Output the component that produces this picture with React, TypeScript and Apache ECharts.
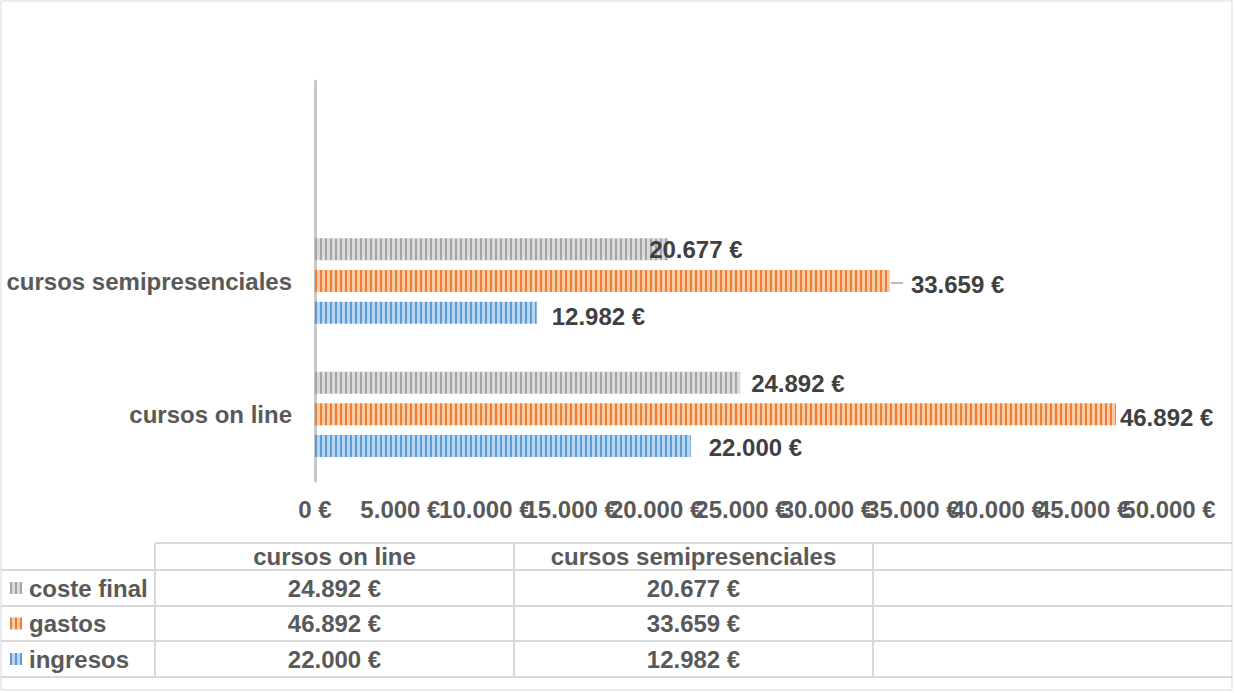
import React, { useEffect, useRef } from 'react';
import * as echarts from 'echarts';

// ---- data ----
const categories = ['cursos on line', 'cursos semipresenciales', ''];
const ingresos = [22000, 12982];
const gastos = [46892, 33659];
const costeFinal = [24892, 20677];
const seriesNames = ['ingresos', 'gastos', 'coste final'];
const axisMin = 0;
const axisMax = 50000;
const axisInterval = 5000;

// ---- styles ----
const FONT = '"Liberation Sans", Arial, Helvetica, sans-serif';
const TEXT = '#595959';
const LABEL = '#404040';
const GRIDC = '#d9d9d9';
const PALETTE = {
  ingresos: { bg: '#b9d5f0', fg: '#5b9bd5' },
  gastos: { bg: '#f9caa7', fg: '#ed7d31' },
  coste: { bg: '#dadada', fg: '#a5a5a5' },
};
const LABEL_OFFSETS = {
  ingresos: [[18, 1], [15, 4]],
  gastos: [[4, 3], [21, 3]],
  coste: [[11, 1], [-19, 0]],
};

function fmt(n: number): string {
  const s = Math.round(n).toString();
  return s.replace(/\B(?=(\d{3})+(?!\d))/g, '.') + ' €';
}

function stripe(bg: string, fg: string): any {
  const c = document.createElement('canvas');
  c.width = 5;
  c.height = 4;
  const ctx = c.getContext('2d')!;
  ctx.fillStyle = bg;
  ctx.fillRect(0, 0, 5, 4);
  ctx.fillStyle = fg;
  ctx.fillRect(0, 0, 2, 4);
  return { type: 'pattern', image: c, repeat: 'repeat', imageWidth: 5, imageHeight: 4 };
}

export default function App() {
  const ref = useRef<HTMLDivElement>(null);
  useEffect(() => {
    if (!ref.current) return;
    const chart = echarts.init(ref.current, undefined, { renderer: 'svg' });
    const pats = {
      ingresos: stripe(PALETTE.ingresos.bg, PALETTE.ingresos.fg),
      gastos: stripe(PALETTE.gastos.bg, PALETTE.gastos.fg),
      coste: stripe(PALETTE.coste.bg, PALETTE.coste.fg),
    };
    const mkData = (arr: number[], offs: number[][]) =>
      arr.map((v, i) => ({ value: v, label: { offset: offs[i] } }));
    const labelBase = {
      show: true,
      position: 'right',
      distance: 0,
      formatter: (p: any) => fmt(p.value),
      color: LABEL,
      fontSize: 24,
      fontWeight: 'bold',
      fontFamily: FONT,
    };
    const barCommon = {
      type: 'bar',
      barWidth: 22,
      barGap: '44%',
      label: labelBase,
      emphasis: { disabled: true },
    };

    // ---- data table (graphic) ----
    const colX = [155, 514, 873, 1232];
    const rowY = [543, 570, 606, 641, 677];
    const g: any[] = [];
    const line = (x1: number, y1: number, x2: number, y2: number) => ({
      type: 'line',
      silent: true,
      shape: { x1, y1, x2, y2 },
      style: { stroke: GRIDC, lineWidth: 2 },
    });
    g.push({
      type: 'rect',
      silent: true,
      shape: { x: 1, y: 1, width: 1231, height: 689 },
      style: { fill: 'none', stroke: GRIDC, lineWidth: 1 },
    });
    g.push(line(colX[0], rowY[0], colX[3], rowY[0]));
    for (let i = 1; i < rowY.length; i++) g.push(line(1, rowY[i], colX[3], rowY[i]));
    for (let j = 0; j < 3; j++) g.push(line(colX[j], rowY[0], colX[j], rowY[4]));
    const txt = (text: string, x: number, y: number, align: string, size = 24) => ({
      type: 'text',
      silent: true,
      x,
      y,
      style: {
        text,
        fill: TEXT,
        font: `bold ${size}px ${FONT}`,
        textAlign: align,
        textVerticalAlign: 'middle',
      },
    });
    for (let j = 0; j < 2; j++) {
      g.push(txt(categories[j], (colX[j] + colX[j + 1]) / 2, (rowY[0] + rowY[1]) / 2, 'center'));
    }
    const rows = [
      { name: seriesNames[2], vals: costeFinal, pat: pats.coste },
      { name: seriesNames[1], vals: gastos, pat: pats.gastos },
      { name: seriesNames[0], vals: ingresos, pat: pats.ingresos },
    ];
    rows.forEach((r, i) => {
      const cy = (rowY[i + 1] + rowY[i + 2]) / 2;
      g.push({
        type: 'rect',
        silent: true,
        shape: { x: 10, y: cy - 6, width: 12, height: 12 },
        style: { fill: r.pat },
      });
      g.push(txt(r.name, 29, cy, 'left'));
      r.vals.forEach((v, j) => {
        g.push(txt(fmt(v), (colX[j] + colX[j + 1]) / 2, cy, 'center'));
      });
    });

    const xAxisBase = {
      type: 'value',
      position: 'bottom',
      offset: 0,
      min: axisMin,
      max: axisMax,
      interval: axisInterval,
      splitLine: { show: false },
      axisLine: { show: false },
      axisTick: { show: false },
    };
    const xLabelBase = {
      color: TEXT,
      fontSize: 24,
      fontWeight: 'bold',
      fontFamily: FONT,
      margin: 16,
      hideOverlap: false,
    };

    chart.setOption({
      animation: false,
      grid: { left: 315, right: 65, top: 81, bottom: 212, containLabel: false },
      xAxis: [
        {
          ...xAxisBase,
          axisLabel: {
            ...xLabelBase,
            formatter: (v: number) => fmt(v),
            showMinLabel: true,
            showMaxLabel: false,
          },
        },
        {
          ...xAxisBase,
          axisLabel: {
            ...xLabelBase,
            formatter: (v: number) => (v === axisMax ? fmt(v) : ''),
            showMinLabel: false,
            showMaxLabel: true,
          },
        },
      ],
      yAxis: {
        type: 'category',
        data: categories,
        axisLine: { show: true, lineStyle: { color: '#c8c8c8', width: 3 } },
        axisTick: { show: false },
        axisLabel: {
          color: TEXT,
          fontSize: 24,
          fontWeight: 'bold',
          fontFamily: FONT,
          margin: 23,
        },
      },
      series: [
        {
          ...barCommon,
          name: seriesNames[2],
          data: mkData(costeFinal, LABEL_OFFSETS.coste),
          itemStyle: { color: pats.coste },
        },
        {
          ...barCommon,
          name: seriesNames[1],
          data: mkData(gastos, LABEL_OFFSETS.gastos),
          itemStyle: { color: pats.gastos },
        },
        {
          ...barCommon,
          name: seriesNames[0],
          data: mkData(ingresos, LABEL_OFFSETS.ingresos),
          itemStyle: { color: pats.ingresos },
        },
        {
          type: 'custom',
          silent: true,
          data: [[gastos[1], 1]],
          encode: { x: 0, y: 1 },
          renderItem: (params: any, api: any) => {
            const p = api.coord([api.value(0), api.value(1)]);
            return {
              type: 'line',
              shape: { x1: p[0] + 1, y1: p[1] + 2, x2: p[0] + 13, y2: p[1] + 2 },
              style: { stroke: '#a6a6a6', lineWidth: 1.5 },
            };
          },
        },
      ],
      graphic: g,
    });
    return () => chart.dispose();
  }, []);
  return (
    <div
      ref={ref}
      style={{ position: 'fixed', left: 0, top: 0, width: 1234, height: 693, background: '#fff' }}
    />
  );
}
